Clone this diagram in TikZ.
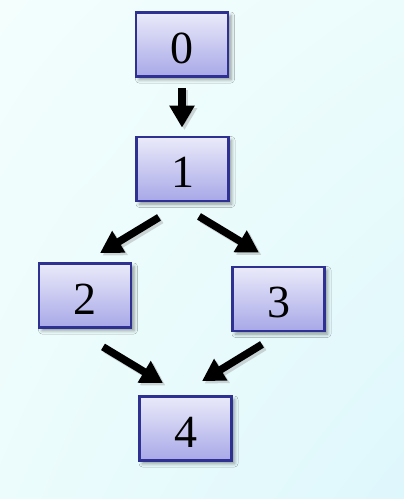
\documentclass[tikz,border=0pt]{standalone}
\usepackage{fontspec}
\setmainfont{Liberation Serif}
\usetikzlibrary{arrows.meta,shadows.blur,shadings}

\definecolor{bgA}{RGB}{243,254,253}
\definecolor{bgB}{RGB}{236,252,252}
\definecolor{bgC}{RGB}{222,247,252}
\definecolor{boxtop}{RGB}{234,234,250}
\definecolor{boxbot}{RGB}{168,168,232}
\definecolor{boxline}{RGB}{46,49,146}

\tikzset{
  stepbox/.style={
    rectangle, draw=boxline, line width=2.8pt,
    top color=boxtop, bottom color=boxbot,
    minimum width=92pt, minimum height=64pt, inner sep=0pt,
    font=\fontsize{46}{50}\selectfont,
    text height=37pt, text depth=0pt,
    blur shadow={shadow xshift=3pt, shadow yshift=-3pt,
                 shadow blur radius=3.5pt, shadow opacity=40}
  },
  flow/.style={
    line width=7.5pt, black,
    -{Triangle[width=24pt,length=22pt]}
  },
  flowshadow/.style={
    line width=7.5pt, black!45, opacity=0.35,
    -{Triangle[width=24pt,length=22pt]},
    transform canvas={shift={(2.5pt,-2.5pt)}}
  }
}

\begin{document}
\begin{tikzpicture}[x=1pt,y=-1pt]
  % background
  \useasboundingbox (0,0) rectangle (404,499);
  \shade[upper left=bgA, upper right=bgB, lower left=bgB, lower right=bgC]
    (0,0) rectangle (404,499);

  % boxes
  \node[stepbox] (n0) at (182,44.5)  {0};
  \node[stepbox] (n1) at (182.5,169) {1};
  \node[stepbox] (n2) at (85,295.5)  {2};
  \node[stepbox] (n3) at (278.5,299) {3};
  \node[stepbox] (n4) at (185.5,428.5) {4};

  % arrows, each with a soft shadow beneath
  \foreach \style in {flowshadow,flow}{
    \draw[\style] ([shift={(0,10)}]n0.south) -- ([shift={(-0.5,-8)}]n1.north);
    \draw[\style] ([shift={(-23.5,15)}]n1.south) -- ([shift={(15,-9)}]n2.north);
    \draw[\style] ([shift={(16.5,14)}]n1.south) -- ([shift={(-19.5,-13)}]n3.north);
    \draw[\style] ([shift={(18,18)}]n2.south) -- ([shift={(-22.5,-12)}]n4.north);
    \draw[\style] ([shift={(-16.5,12)}]n3.south) -- ([shift={(16.5,-14)}]n4.north);
  }
\end{tikzpicture}
\end{document}
